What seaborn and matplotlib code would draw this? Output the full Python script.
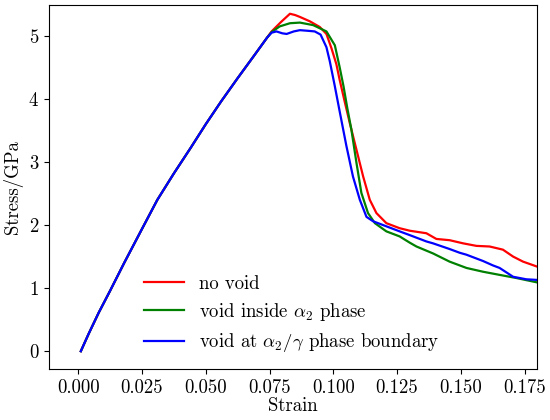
import pandas as pd
import matplotlib
matplotlib.use("Agg")
import matplotlib.pyplot as plt
import seaborn as sns

# shared elastic part of the three curves
rise_strain = [0.001, 0.004, 0.008, 0.0125, 0.018, 0.025, 0.031, 0.0375,
               0.044, 0.05, 0.056, 0.0625, 0.069, 0.074]
rise_stress = [0.0, 0.27, 0.61, 0.96, 1.40, 1.94, 2.40, 2.82,
               3.22, 3.60, 3.96, 4.33, 4.69, 4.97]

# no void
red_strain = [0.0758, 0.0795, 0.0830, 0.0850, 0.0869, 0.0908, 0.0947, 0.0973,
              0.0993, 0.1012, 0.1025, 0.1045, 0.1065, 0.1091, 0.1117, 0.1143,
              0.1169, 0.1208, 0.126, 0.130, 0.1365, 0.1404, 0.1456, 0.1509,
              0.1561, 0.1613, 0.1665, 0.1705, 0.1744, 0.180]
red_stress = [5.07, 5.22, 5.35, 5.33, 5.30, 5.23, 5.14, 5.03,
              4.80, 4.55, 4.30, 3.95, 3.61, 3.19, 2.77, 2.40,
              2.19, 2.03, 1.95, 1.91, 1.87, 1.78, 1.76, 1.71,
              1.67, 1.66, 1.61, 1.50, 1.42, 1.34]

# void inside alpha2 phase
green_strain = [0.0758, 0.079, 0.083, 0.0869, 0.0921, 0.0973, 0.1006, 0.1025,
                0.1040, 0.1055, 0.1071, 0.1091, 0.1110, 0.1136, 0.1163, 0.1208,
                0.126, 0.130, 0.1326, 0.1391, 0.1456, 0.1522, 0.1587, 0.1652,
                0.1718, 0.180]
green_stress = [5.06, 5.15, 5.20, 5.21, 5.17, 5.07, 4.85, 4.50,
                4.20, 3.85, 3.51, 2.98, 2.51, 2.19, 2.03, 1.90,
                1.82, 1.72, 1.66, 1.55, 1.42, 1.32, 1.26, 1.21,
                1.16, 1.09]

# void at alpha2/gamma boundary
blue_strain = [0.0758, 0.0777, 0.0800, 0.0817, 0.0845, 0.0869, 0.0900, 0.0927,
               0.0950, 0.0973, 0.0986, 0.1005, 0.1025, 0.1051, 0.1077, 0.1104,
               0.1130, 0.1156, 0.1195, 0.1221, 0.126, 0.130, 0.1326, 0.1365,
               0.1391, 0.1456, 0.1496, 0.1522, 0.1587, 0.1626, 0.1652, 0.1705,
               0.1757, 0.180]
blue_stress = [5.05, 5.07, 5.04, 5.03, 5.07, 5.09, 5.08, 5.07,
               5.02, 4.82, 4.60, 4.22, 3.80, 3.26, 2.77, 2.40,
               2.13, 2.06, 2.00, 1.96, 1.90, 1.84, 1.80, 1.74,
               1.71, 1.62, 1.56, 1.53, 1.43, 1.36, 1.32, 1.18,
               1.14, 1.13]

labels = ["no void",
          r"void inside $\alpha_2$ phase",
          r"void at $\alpha_2/\gamma$ phase boundary"]
colors = ["red", "green", "blue"]

frames = []
for lab, xs, ys in zip(labels, [red_strain, green_strain, blue_strain],
                       [red_stress, green_stress, blue_stress]):
    frames.append(pd.DataFrame({"Strain": rise_strain + xs,
                                "Stress": rise_stress + ys,
                                "case": lab}))
df = pd.concat(frames, ignore_index=True)

plt.rcParams["font.family"] = "serif"
plt.rcParams["font.serif"] = ["cmr10"]
plt.rcParams["mathtext.fontset"] = "cm"
plt.rcParams["axes.formatter.use_mathtext"] = True
plt.rcParams["axes.unicode_minus"] = False
plt.rcParams["font.size"] = 13.5

fig, ax = plt.subplots(figsize=(5.5, 4.2), dpi=100)
fig.subplots_adjust(left=0.089, right=0.977, top=0.989, bottom=0.121)

sns.lineplot(data=df, x="Strain", y="Stress", hue="case", hue_order=labels,
             palette=dict(zip(labels, colors)), estimator=None, sort=False,
             linewidth=1.6, ax=ax)

ax.set_xlim(-0.0115, 0.18)
ax.set_ylim(-0.285, 5.495)
ax.set_xticks([0.0, 0.025, 0.05, 0.075, 0.1, 0.125, 0.15, 0.175])
ax.set_xticklabels(["0.000", "0.025", "0.050", "0.075", "0.100", "0.125", "0.150", "0.175"])
ax.set_xlabel("Strain", labelpad=0)
ax.set_ylabel("Stress/GPa", labelpad=4)

ax.legend(title=None, frameon=False, loc="lower left",
          bbox_to_anchor=(0.18, 0.02), borderaxespad=0, fontsize=13.5,
          handlelength=2.1, handletextpad=0.8, labelspacing=0.45)

fig.savefig("out.png", dpi=100)
